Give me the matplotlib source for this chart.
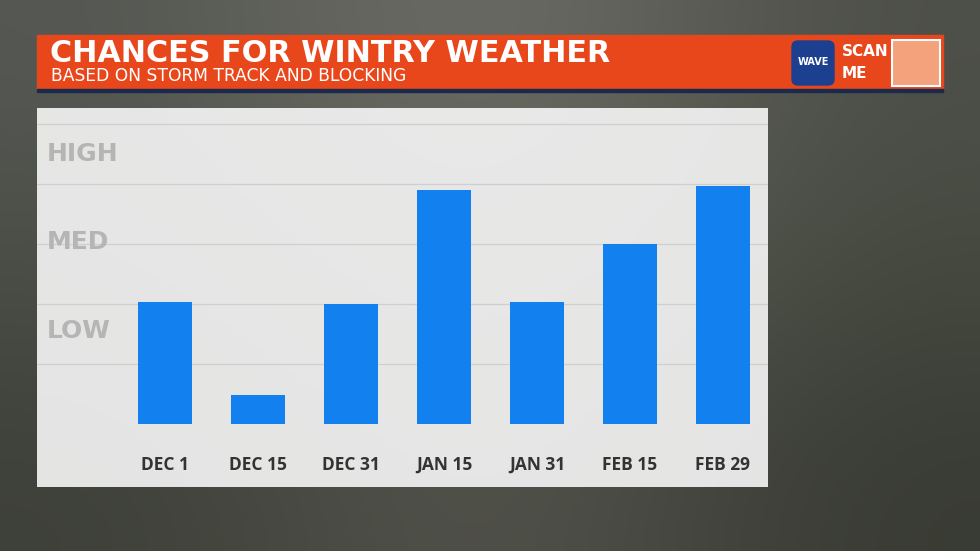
import numpy as np
import matplotlib.pyplot as plt
from matplotlib.patches import Rectangle, FancyBboxPatch

dates = ['DEC 1', 'DEC 15', 'DEC 31', 'JAN 15', 'JAN 31', 'FEB 15', 'FEB 29']
chance = [2.03, 0.48, 2.0, 3.9, 2.03, 3.0, 3.97]
levels = ['LOW', 'MED', 'HIGH']
level_pos = [1.55, 3.03, 4.5]

W, H = 980, 551
fig = plt.figure(figsize=(9.8, 5.51), dpi=100)

# background: blurry photo look
bg = fig.add_axes([0, 0, 1, 1])
bg.set_xlim(0, W)
bg.set_ylim(H, 0)
bg.axis('off')
corners = np.array([[[0.33, 0.34, 0.32], [0.45, 0.45, 0.42], [0.30, 0.31, 0.28]],
                    [[0.28, 0.30, 0.27], [0.40, 0.40, 0.37], [0.26, 0.28, 0.24]],
                    [[0.24, 0.25, 0.22], [0.34, 0.34, 0.31], [0.22, 0.23, 0.20]]])
bg.imshow(corners, extent=[0, W, H, 0], interpolation='bicubic', aspect='auto')

# header
bg.add_patch(Rectangle((37, 35), 906, 54, color='#e8471c'))
bg.add_patch(Rectangle((37, 89), 906, 3, color='#1b2a4a'))
bg.text(50, 53, 'CHANCES FOR WINTRY WEATHER', color='white', fontsize=21.8,
        fontweight='bold', va='center', family='DejaVu Sans')
bg.text(51, 76, 'BASED ON STORM TRACK AND BLOCKING', color='white', fontsize=12.3,
        va='center', family='DejaVu Sans')
bg.add_patch(FancyBboxPatch((792, 41), 42, 44, boxstyle='round,pad=0,rounding_size=6',
                            color='#1c3f8f'))
bg.text(813, 62, 'WAVE', color='white', fontsize=7, fontweight='bold', ha='center', va='center')
bg.text(842, 52, 'SCAN', color='white', fontsize=11, fontweight='bold', va='center')
bg.text(842, 74, 'ME', color='white', fontsize=11, fontweight='bold', va='center')
bg.add_patch(Rectangle((892, 40), 48, 46, facecolor='#f3a27c', edgecolor='white', lw=1.5))

# chart panel
ax = fig.add_axes([37 / W, 1 - 487 / H, (768 - 37) / W, (487 - 108) / H])
ax.set_facecolor((0.97, 0.97, 0.97, 0.9))
ax.set_xlim(-1.376, 6.484)
ax.set_ylim(-1.05, 5.27)
for y in range(1, 6):
    ax.axhline(y, color='#cfcfcf', lw=0.9, zorder=1)
x = np.arange(len(dates))
ax.bar(x, chance, width=0.58, color='#1380f0', zorder=2)
for xi, d in zip(x, dates):
    ax.text(xi, -0.68, d, ha='center', va='center', fontsize=12.5,
            fontweight='bold', color='#333333', family='Open Sans')
for lab, yp in zip(levels, level_pos):
    ax.text(-1.27, yp, lab, ha='left', va='center', fontsize=18,
            fontweight='bold', color='#b5b5b5', family='DejaVu Sans')
ax.set_xticks([])
ax.set_yticks([])
for s in ax.spines.values():
    s.set_visible(False)

fig.savefig('out.png', dpi=100)
